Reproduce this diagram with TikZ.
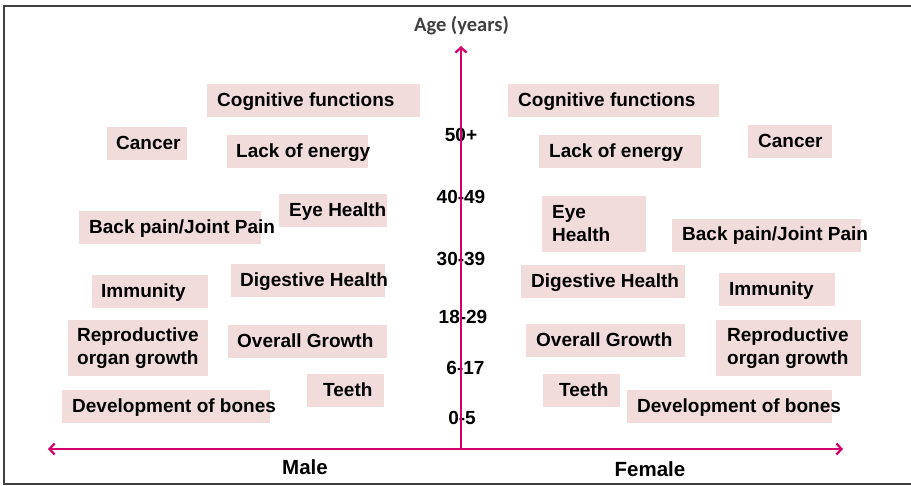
\documentclass[tikz,border=0pt]{standalone}
\usepackage{fontspec}
\setmainfont{Liberation Sans}
\newfontfamily\titlefont{Carlito}
\usepackage{tikz}
\usetikzlibrary{arrows.meta, positioning}
\definecolor{axispink}{RGB}{212,0,110}
\definecolor{tagpink}{RGB}{242,220,219}
\definecolor{framegray}{RGB}{64,64,64}

\begin{document}
\begin{tikzpicture}[x=1pt, y=-1pt,
  tag/.style={font=\fontsize{19}{23}\selectfont\bfseries, inner sep=0pt, anchor=base west},
  agelbl/.style={font=\fontsize{19}{23}\selectfont\bfseries, inner sep=0pt, anchor=base},
  sexlbl/.style={font=\fontsize{20.5}{24}\selectfont\bfseries, inner sep=0pt, anchor=base},
  axisline/.style={axispink, line width=2.3pt, -{Straight Barb[length=5pt,width=11pt]}}]

  \useasboundingbox (0,0) rectangle (911,486);
  % frame (open on the right)
  \draw[framegray, line width=1.5pt] (912,6) -- (4,6) -- (4,484) -- (912,484);

  % Male side
  \fill[tagpink] (207,84) rectangle (420,117);
  \node[tag] (cogL) at (217,106.5) {Cognitive functions};
  \fill[tagpink] (107,127) rectangle (187,160);
  \node[tag] (cancerL) at (116,149.5) {Cancer};
  \fill[tagpink] (227,135) rectangle (368,168);
  \node[tag] (energyL) at (236,157.5) {Lack of energy};
  \fill[tagpink] (279,194) rectangle (387,227);
  \node[tag] (eyeL) at (289,216.7) {Eye Health};
  \fill[tagpink] (79,211) rectangle (261,244);
  \node[tag] (backL) at (89,233.3) {Back pain/Joint Pain};
  \fill[tagpink] (92,275) rectangle (208,308);
  \node[tag] (immL) at (101,297.3) {Immunity};
  \fill[tagpink] (231,264) rectangle (385,297);
  \node[tag] (digL) at (240,286.7) {Digestive Health};
  \fill[tagpink] (68,320) rectangle (208,376);
  \node[tag, anchor=west, align=left] (reproL) at (77,348) {Reproductive\\organ growth};
  \fill[tagpink] (228,325) rectangle (387,358);
  \node[tag] (growL) at (237,347.5) {Overall Growth};
  \fill[tagpink] (307,374) rectangle (384,407);
  \node[tag] (teethL) at (323,396.5) {Teeth};
  \fill[tagpink] (62,390) rectangle (270,423);
  \node[tag] (boneL) at (72,412.5) {Development of bones};

  % Female side
  \fill[tagpink] (508,84) rectangle (719,117);
  \node[tag] (cogR) at (518,106.5) {Cognitive functions};
  \fill[tagpink] (539,135) rectangle (701,168);
  \node[tag] (energyR) at (549,157.5) {Lack of energy};
  \fill[tagpink] (748,125) rectangle (832,158);
  \node[tag] (cancerR) at (758,147.7) {Cancer};
  \fill[tagpink] (542,196) rectangle (646,252);
  \node[tag, anchor=west, align=left] (eyeR) at (552,224) {Eye\\Health};
  \fill[tagpink] (672,219) rectangle (861,252);
  \node[tag] (backR) at (682,241) {Back pain/Joint Pain};
  \fill[tagpink] (521,265) rectangle (685,298);
  \node[tag] (digR) at (531,287.5) {Digestive Health};
  \fill[tagpink] (719,273) rectangle (835,306);
  \node[tag] (immR) at (729,295.5) {Immunity};
  \fill[tagpink] (526,324) rectangle (685,357);
  \node[tag] (growR) at (536,346.5) {Overall Growth};
  \fill[tagpink] (716,320) rectangle (861,376);
  \node[tag, anchor=west, align=left] (reproR) at (727,348) {Reproductive\\organ growth};
  \fill[tagpink] (543,374) rectangle (620,407);
  \node[tag] (teethR) at (559,396.5) {Teeth};
  \fill[tagpink] (627,390) rectangle (832,423);
  \node[tag] (boneR) at (637,412.5) {Development of bones};

  % age groups on the vertical axis
  \foreach \grp/\xx/\yy [count=\i] in {50+/461/141.7, 40-49/461/204, 30-39/461/266,
      18-29/463/323.3, 6-17/465.5/375, 0-5/462/424.3}
    \node[agelbl] (age\i) at (\xx,\yy) {\grp};

  % axes
  \coordinate (O) at (461,449);
  \coordinate (ageTop) at (461,46);
  \coordinate (maleEnd) at (48,449);
  \coordinate (femaleEnd) at (843,449);
  \draw[axisline] (O) -- (ageTop);
  \draw[axisline] (O) -- (maleEnd);
  \draw[axisline] (O) -- (femaleEnd);

  \node[anchor=base, inner sep=0pt, framegray, font=\titlefont\fontsize{20.5}{24}\selectfont\bfseries] (ageTitle) at (461.5,31.7) {Age (years)};
  \node[sexlbl] (male) at (305,474.3) {Male};
  \node[sexlbl] (female) at (650,476.7) {Female};
\end{tikzpicture}
\end{document}
